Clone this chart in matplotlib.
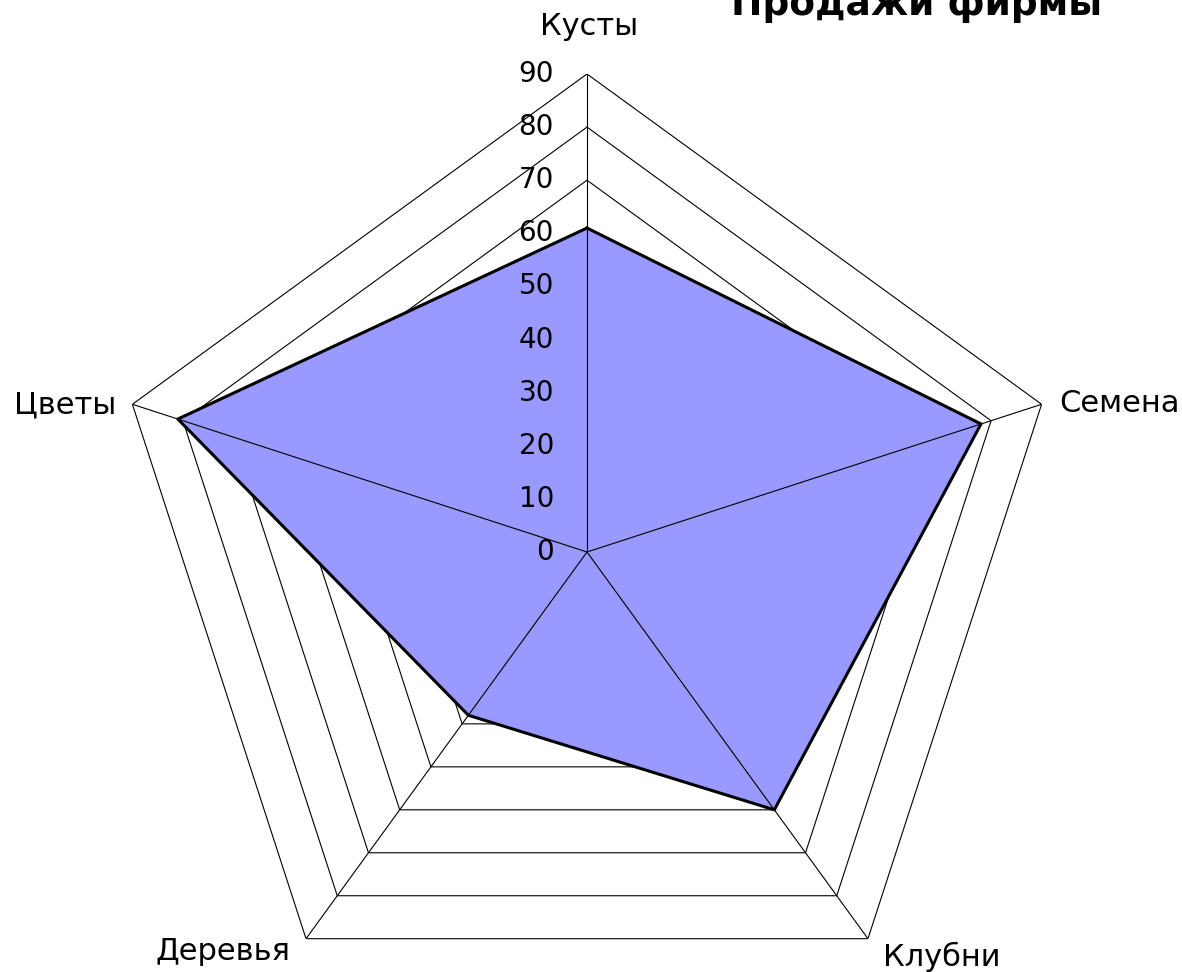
import numpy as np
import matplotlib
matplotlib.use("Agg")
from matplotlib import pyplot as plt

plt.rcParams['font.family'] = ['DejaVu Sans']

categories = ["Кусты", "Семена", "Клубни", "Деревья", "Цветы"]
values = [61, 78, 60, 38, 81]
ticks = [0, 10, 20, 30, 40, 50, 60, 70, 80, 90]
title = "Продажи фирмы"

W, H, DPI = 1182, 972, 100
fig = plt.figure(figsize=(W / DPI, H / DPI), dpi=DPI)

# center at (587, 552) px from top-left, radius for 90 = 478 px
cx, cy, R = 587, 552, 478
ax = fig.add_axes([(cx - R) / W, (H - cy - R) / H, 2 * R / W, 2 * R / H],
                  projection='polar')
ax.set_theta_offset(np.pi / 2)
ax.set_theta_direction(-1)
ax.set_ylim(0, ticks[-1])
ax.set_xticks([])
ax.set_yticks([])
ax.grid(False)
ax.spines['polar'].set_visible(False)
ax.patch.set_alpha(0)

n = len(categories)
theta = np.arange(n) * 2 * np.pi / n
theta_c = np.append(theta, theta[0])

# rings
for t in ticks[1:]:
    ax.plot(theta_c, [t] * (n + 1), color='black', lw=0.8, zorder=1)

# data
vals = np.append(values, values[0])
ax.fill(theta_c, vals, color='#9999FF', zorder=2)
ax.plot(theta_c, vals, color='black', lw=2.2, zorder=4)

# spokes
for th in theta:
    ax.plot([th, th], [0, ticks[-1]], color='black', lw=0.8, zorder=3)

# tick labels
for t in ticks:
    ax.annotate(str(t), xy=(0, t), xytext=(-33, 0), textcoords='offset pixels',
                ha='right', va='center', fontsize=20, annotation_clip=False)

# category labels
offsets = [(2, 48, 'center'), (18, 1, 'left'), (15, -18, 'left'),
           (-16, -13, 'right'), (-16, -1, 'right')]
for th, lab, (dx, dy, ha) in zip(theta, categories, offsets):
    ax.annotate(lab, xy=(th, ticks[-1]), xytext=(dx, dy), textcoords='offset pixels',
                ha=ha, va='center', fontsize=22, annotation_clip=False)

# title is cut off at the top edge, as in the original
fig.text(917 / W, (H - 15) / H, title, ha='center', va='baseline',
         fontsize=27, fontweight='bold')

fig.savefig("out.png", dpi=DPI)
